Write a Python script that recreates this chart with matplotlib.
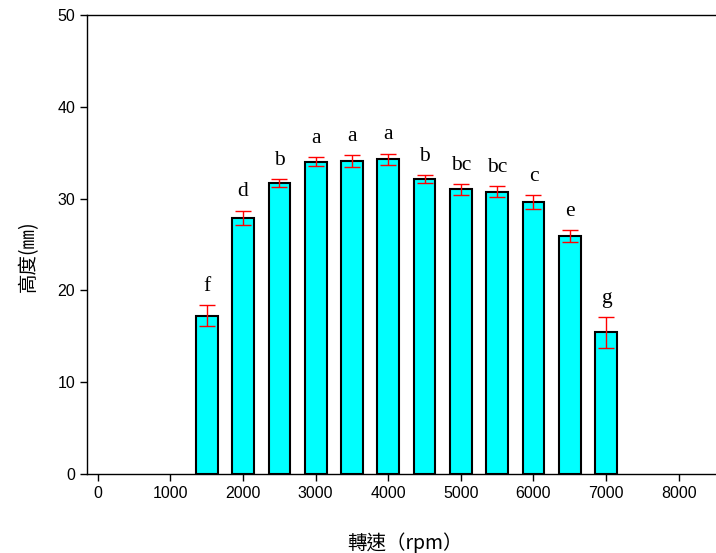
import numpy as np
import matplotlib.pyplot as plt

# ======================
# DATA
# ======================
rpm = [1500, 2000, 2500, 3000, 3500, 4000, 4500, 5000, 5500, 6000, 6500, 7000]
height = [17.25, 27.92, 31.72, 34.03, 34.13, 34.28, 32.1, 31.01, 30.77, 29.6, 25.89, 15.43]
err = [1.15, 0.78, 0.43, 0.52, 0.65, 0.62, 0.45, 0.58, 0.6, 0.77, 0.65, 1.67]
groups = ['f', 'd', 'b', 'a', 'a', 'a', 'b', 'bc', 'bc', 'c', 'e', 'g']
xticks = [0, 1000, 2000, 3000, 4000, 5000, 6000, 7000, 8000]
yticks = [0, 10, 20, 30, 40, 50]

cjk = ['Noto Sans CJK TC', 'DejaVu Sans']

# ======================
# FIGURE
# ======================
fig = plt.figure(figsize=(7.16, 5.53), dpi=100)
ax = fig.add_axes([87 / 716, 79 / 553, 629 / 716, 459 / 553])

ax.bar(rpm, height, width=300, color='#00ffff', edgecolor='black', linewidth=1.5, zorder=2)
ax.errorbar(rpm, height, yerr=err, fmt='none', ecolor='red', elinewidth=1,
            capsize=5.5, capthick=1, zorder=3)

# significance letters above each bar
for x, h, e, g in zip(rpm, height, err, groups):
    ax.text(x, h + e + 1.0, g, ha='center', va='bottom',
            family='Liberation Serif', fontsize=15.5)

ax.set_xlim(-150, -150 + 629 / 72.6 * 1000)
ax.set_ylim(0, 50)
ax.set_xticks(xticks)
ax.set_yticks(yticks)
ax.tick_params(direction='out', length=5, width=1, labelsize=11.5)
for lab in ax.get_xticklabels() + ax.get_yticklabels():
    lab.set_family('Liberation Sans')

ax.spines['right'].set_visible(False)
for s in ['left', 'bottom', 'top']:
    ax.spines[s].set_linewidth(1)

ax.set_xlabel('轉速（rpm）', family=cjk, fontsize=14)
ax.set_ylabel('高度(㎜)', family=cjk, fontsize=14)
ax.xaxis.set_label_coords(0.506, -0.128)
ax.yaxis.set_label_coords(-0.077, 0.475)

fig.savefig('out.png', dpi=100)
